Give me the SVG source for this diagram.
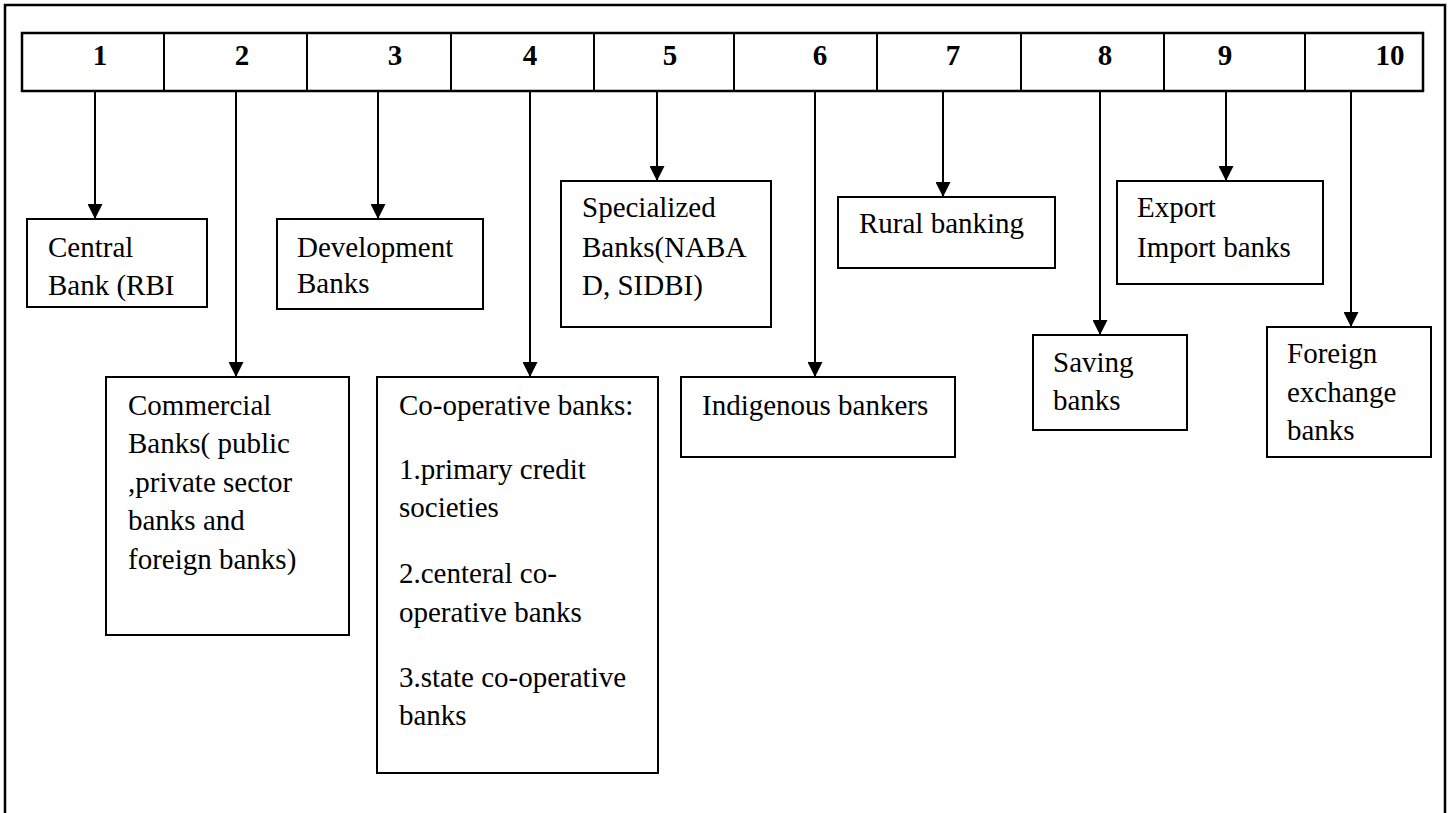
<svg xmlns="http://www.w3.org/2000/svg" width="1450" height="813" viewBox="0 0 1450 813">
<defs>
<style>
.frame{fill:none;stroke:#000;stroke-width:2.5}
.hdr{fill:#fff;stroke:#000;stroke-width:2.5}
.div{stroke:#000;stroke-width:2}
.num{font-family:'Liberation Serif','DejaVu Serif',serif;font-weight:bold;font-size:29px;fill:#000;text-anchor:middle}
.box{fill:#fff;stroke:#000;stroke-width:2}
.t{font-family:'Liberation Serif','DejaVu Serif',serif;font-size:29px;fill:#000}
.con{stroke:#000;stroke-width:2;fill:none;marker-end:url(#ah)}
</style>
<marker id="ah" markerUnits="userSpaceOnUse" markerWidth="16" markerHeight="15" refX="15" refY="7.5" orient="auto">
<path d="M0,0 L15,7.5 L0,15 Z" fill="#000"/>
</marker>
</defs>
<rect width="1450" height="813" fill="#fff"/>
<path class="frame" d="M5,813 V5 H1445 V813"/>
<g id="header">
<rect class="hdr" x="22" y="33" width="1401" height="58"/>
<line class="div" x1="164" y1="33" x2="164" y2="91"/>
<line class="div" x1="307" y1="33" x2="307" y2="91"/>
<line class="div" x1="451" y1="33" x2="451" y2="91"/>
<line class="div" x1="594" y1="33" x2="594" y2="91"/>
<line class="div" x1="734" y1="33" x2="734" y2="91"/>
<line class="div" x1="877" y1="33" x2="877" y2="91"/>
<line class="div" x1="1021" y1="33" x2="1021" y2="91"/>
<line class="div" x1="1164" y1="33" x2="1164" y2="91"/>
<line class="div" x1="1305" y1="33" x2="1305" y2="91"/>
<text class="num" x="100" y="65">1</text>
<text class="num" x="242" y="65">2</text>
<text class="num" x="395" y="65">3</text>
<text class="num" x="530" y="65">4</text>
<text class="num" x="670" y="65">5</text>
<text class="num" x="820" y="65">6</text>
<text class="num" x="953" y="65">7</text>
<text class="num" x="1105" y="65">8</text>
<text class="num" x="1225" y="65">9</text>
<text class="num" x="1390" y="65">10</text>
</g>
<g id="connectors">
<line class="con" x1="95" y1="92" x2="95" y2="219"/>
<line class="con" x1="236" y1="92" x2="236" y2="377"/>
<line class="con" x1="378" y1="92" x2="378" y2="219"/>
<line class="con" x1="530" y1="92" x2="530" y2="377"/>
<line class="con" x1="657" y1="92" x2="657" y2="181"/>
<line class="con" x1="815" y1="92" x2="815" y2="377"/>
<line class="con" x1="943" y1="92" x2="943" y2="197"/>
<line class="con" x1="1100" y1="92" x2="1100" y2="335"/>
<line class="con" x1="1226" y1="92" x2="1226" y2="181"/>
<line class="con" x1="1351" y1="92" x2="1351" y2="327"/>
</g>
<g id="central-bank">
<rect class="box" x="27" y="219" width="180" height="88"/>
<text class="t" x="48" y="257">Central</text>
<text class="t" x="48" y="295">Bank (RBI</text>
</g>
<g id="commercial-banks">
<rect class="box" x="106" y="377" width="243" height="258"/>
<text class="t" x="128" y="415">Commercial</text>
<text class="t" x="128" y="453">Banks( public</text>
<text class="t" x="128" y="492">,private sector</text>
<text class="t" x="128" y="530">banks and</text>
<text class="t" x="128" y="569">foreign banks)</text>
</g>
<g id="development-banks">
<rect class="box" x="277" y="219" width="206" height="90"/>
<text class="t" x="297" y="257">Development</text>
<text class="t" x="297" y="293">Banks</text>
</g>
<g id="cooperative-banks">
<rect class="box" x="377" y="377" width="281" height="396"/>
<text class="t" x="399" y="415">Co-operative banks:</text>
<text class="t" x="399" y="479">1.primary credit</text>
<text class="t" x="399" y="517">societies</text>
<text class="t" x="399" y="583">2.centeral co-</text>
<text class="t" x="399" y="622">operative banks</text>
<text class="t" x="399" y="687">3.state co-operative</text>
<text class="t" x="399" y="725">banks</text>
</g>
<g id="specialized-banks">
<rect class="box" x="561" y="181" width="210" height="146"/>
<text class="t" x="582" y="217">Specialized</text>
<text class="t" x="582" y="257">Banks(NABA</text>
<text class="t" x="582" y="295">D, SIDBI)</text>
</g>
<g id="indigenous-bankers">
<rect class="box" x="681" y="377" width="274" height="80"/>
<text class="t" x="702" y="415">Indigenous bankers</text>
</g>
<g id="rural-banking">
<rect class="box" x="838" y="197" width="217" height="71"/>
<text class="t" x="859" y="233">Rural banking</text>
</g>
<g id="saving-banks">
<rect class="box" x="1033" y="335" width="154" height="95"/>
<text class="t" x="1053" y="372">Saving</text>
<text class="t" x="1053" y="410">banks</text>
</g>
<g id="export-import-banks">
<rect class="box" x="1117" y="181" width="206" height="103"/>
<text class="t" x="1137" y="217">Export</text>
<text class="t" x="1137" y="257">Import banks</text>
</g>
<g id="foreign-exchange-banks">
<rect class="box" x="1267" y="327" width="164" height="130"/>
<text class="t" x="1287" y="363">Foreign</text>
<text class="t" x="1287" y="402">exchange</text>
<text class="t" x="1287" y="440">banks</text>
</g>
</svg>
